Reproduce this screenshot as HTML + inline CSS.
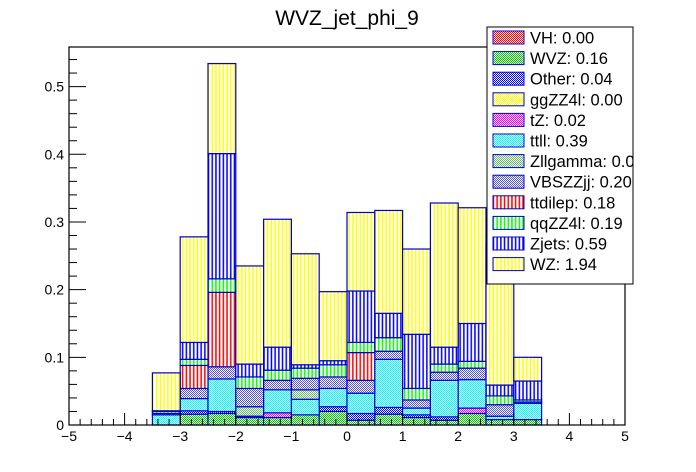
<!DOCTYPE html>
<html><head><meta charset="utf-8"><style>
body{margin:0;background:#fff;}
svg{display:block;font-family:"Liberation Sans",Arial,sans-serif;}
</style></head><body>
<svg id="chart" width="696" height="472" viewBox="0 0 696 472" xmlns="http://www.w3.org/2000/svg">
<defs id="defs"></defs>
<rect x="0" y="0" width="696" height="472" fill="#fff"/>
<text x="347" y="25" font-size="21" text-anchor="middle">WVZ_jet_phi_9</text>
<g id="bars"></g>
<g id="axes"></g>
<g id="legend"></g>
</svg>
<script>
const binEdges = [-3.5,-3,-2.5,-2,-1.5,-1,-0.5,0,0.5,1,1.5,2,2.5,3,3.5];
const seriesNames = ["VH","WVZ","Other","ggZZ4l","tZ","ttll","Zllgamma","VBSZZjj","ttdilep","qqZZ4l","Zjets","WZ"];
const legendLabels = ["VH: 0.00","WVZ: 0.16","Other: 0.04","ggZZ4l: 0.00","tZ: 0.02","ttll: 0.39","Zllgamma: 0.04","VBSZZjj: 0.20","ttdilep: 0.18","qqZZ4l: 0.19","Zjets: 0.59","WZ: 1.94"];
const VH =      [0,0,0,0,0,0,0,0,0,0,0,0,0,0];
const WVZ =     [0,0.016,0.017,0.011,0.011,0.015,0.020,0.007,0.016,0.011,0.007,0.017,0.008,0.008];
const Other =   [0,0.005,0.003,0.002,0,0,0.007,0.010,0.010,0.004,0.005,0,0,0];
const ggZZ4l =  [0,0,0,0,0,0,0,0,0,0,0,0,0,0];
const tZ =      [0,0,0,0,0.007,0,0,0,0,0,0,0.008,0,0];
const ttll =    [0.015,0.018,0.048,0,0.034,0.023,0.027,0.030,0.071,0.010,0.054,0.042,0.005,0.024];
const Zllgamma =[0,0,0,0.014,0,0.014,0,0,0,0,0,0,0,0];
const VBSZZjj = [0.002,0.015,0.018,0.027,0.014,0.017,0.017,0.019,0.012,0.012,0.012,0.017,0.017,0.002];
const ttdilep = [0,0.034,0.110,0,0,0,0,0.041,0,0,0,0,0,0];
const qqZZ4l =  [0.003,0.009,0.020,0.017,0.015,0.015,0.018,0.015,0.020,0.017,0.012,0.010,0.013,0.003];
const Zjets =   [0.001,0.025,0.185,0.019,0.034,0.005,0.006,0.076,0.036,0.080,0.025,0.056,0.016,0.028];
const WZ =      [0.056,0.156,0.133,0.145,0.189,0.164,0.102,0.116,0.152,0.126,0.213,0.171,0.210,0.035];
const xTickLabels = ["−5","−4","−3","−2","−1","0","1","2","3","4","5"];
const yTickLabels = ["0","0.1","0.2","0.3","0.4","0.5"];

const seriesValues = [VH,WVZ,Other,ggZZ4l,tZ,ttll,Zllgamma,VBSZZjj,ttdilep,qqZZ4l,Zjets,WZ];
const styles = [
 ["check","#ff0000"],["check","#00cc00"],["check","#0000ff"],["check","#ffff00"],
 ["check","#ff00ff"],["check","#00ffff"],["check","#66bb66"],["check","#5555cc"],
 ["lines","#ff0000"],["lines","#00ff00"],["lines","#0000ff"],["lines","#ffff00"]];

const L=69,R=625,T=47,B=425,xMin=-5,xMax=5,yMin=0,yMax=0.5585;
const X=v=>L+(v-xMin)/(xMax-xMin)*(R-L);
const Y=v=>B-(v-yMin)/(yMax-yMin)*(B-T);
const NS="http://www.w3.org/2000/svg";
function mk(tag,attrs,parent){const e=document.createElementNS(NS,tag);for(const k in attrs)e.setAttribute(k,attrs[k]);parent.appendChild(e);return e;}

const defs=document.getElementById('defs');
styles.forEach((s,i)=>{
  if(s[0]==="check"){
    const p=mk('pattern',{id:'pat'+i,width:2,height:2,patternUnits:'userSpaceOnUse'},defs);
    mk('rect',{x:0,y:0,width:2,height:2,fill:'#fff'},p);
    mk('rect',{x:0,y:0,width:1,height:1,fill:s[1]},p);
    mk('rect',{x:1,y:1,width:1,height:1,fill:s[1]},p);
  } else {
    const p=mk('pattern',{id:'pat'+i,width:3.7,height:4,patternUnits:'userSpaceOnUse'},defs);
    mk('rect',{x:0,y:0,width:3.7,height:4,fill:'#fff'},p);
    mk('rect',{x:0.6,y:0,width:1.5,height:4,fill:s[1]},p);
  }
});

const bars=document.getElementById('bars');
const cum=new Array(binEdges.length-1).fill(0);
seriesValues.forEach((vals,si)=>{
  vals.forEach((v,b)=>{
    const y0=cum[b],y1=cum[b]+v;cum[b]=y1;
    if(v<=0)return;
    const r=mk('rect',{x:X(binEdges[b]),y:Y(y1),width:X(binEdges[b+1])-X(binEdges[b]),height:Y(y0)-Y(y1),fill:'url(#pat'+si+')',stroke:'#0000cc','stroke-width':1.2},bars);
    
    
  });
});

const ax=document.getElementById('axes');
const fr=mk('rect',{x:L,y:T,width:R-L,height:B-T,fill:'none',stroke:'#000','stroke-width':1.2},ax);


for(let v=-5;v<=5.0001;v+=0.2){
  const major=Math.abs(v-Math.round(v))<1e-6;
  mk('line',{x1:X(v),x2:X(v),y1:B,y2:B-(major?12:6),stroke:'#000','stroke-width':1},ax);
}
xTickLabels.forEach((t,i)=>{
  const tx=mk('text',{x:X(xMin+i),y:441,'font-size':14,'text-anchor':'middle'},ax);
  tx.textContent=t;
  
  
});
for(let v=0;v<=yMax+1e-6;v+=0.02){
  const major=Math.abs(v*10-Math.round(v*10))<1e-6;
  mk('line',{x1:L,x2:L+(major?17:8),y1:Y(v),y2:Y(v),stroke:'#000','stroke-width':1},ax);
}
yTickLabels.forEach((t,i)=>{
  const ty=mk('text',{x:64,y:Y(i*0.1)+5,'font-size':14,'text-anchor':'end'},ax);
  ty.textContent=t;
  
  
});

const lg=document.getElementById('legend');
const clip=mk('clipPath',{id:'lgclip'},defs);
mk('rect',{x:487,y:27,width:146,height:257},clip);
const box=mk('rect',{x:487,y:27,width:146,height:257,fill:'#fff',stroke:'#000','stroke-width':1},lg);


const inner=mk('g',{'clip-path':'url(#lgclip)'},lg);
legendLabels.forEach((t,i)=>{
  const cy=37.5+i*20.6;
  const g=mk('g',{},inner);
  
  
  mk('rect',{x:493,y:cy-6.5,width:31,height:13,fill:'url(#pat'+i+')',stroke:'#0000cc','stroke-width':1},g);
  const tx=mk('text',{x:530,y:cy+6,'font-size':16.5},g);
  tx.textContent=t;
});
</script>
</body></html>
